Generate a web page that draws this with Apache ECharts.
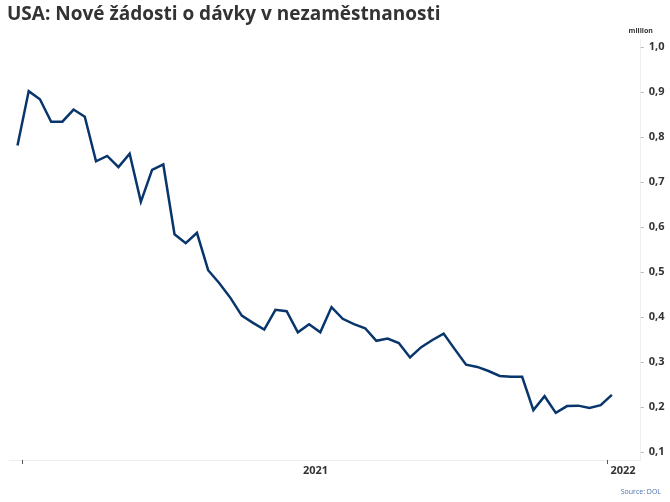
<!DOCTYPE html>
<html>
<head>
<meta charset="utf-8">
<script src="https://cdn.jsdelivr.net/npm/echarts@6/dist/echarts.min.js"></script>
<style>
html,body{margin:0;padding:0;background:#fff;}
#chart{width:670px;height:502px;}
</style>
</head>
<body>
<div id="chart"></div>
<script>
// Weekly initial jobless claims (millions), plotted dates
var dates = [
  "2020-12-29","2021-01-05","2021-01-12","2021-01-19","2021-01-26",
  "2021-02-02","2021-02-09","2021-02-16","2021-02-23",
  "2021-03-02","2021-03-09","2021-03-16","2021-03-23","2021-03-30",
  "2021-04-06","2021-04-13","2021-04-20","2021-04-27",
  "2021-05-04","2021-05-11","2021-05-18","2021-05-25",
  "2021-06-01","2021-06-08","2021-06-15","2021-06-22","2021-06-29",
  "2021-07-06","2021-07-13","2021-07-20","2021-07-27",
  "2021-08-03","2021-08-10","2021-08-17","2021-08-24","2021-08-31",
  "2021-09-07","2021-09-14","2021-09-21","2021-09-28",
  "2021-10-05","2021-10-12","2021-10-19","2021-10-26",
  "2021-11-02","2021-11-09","2021-11-16","2021-11-23","2021-11-30",
  "2021-12-07","2021-12-14","2021-12-21","2021-12-28",
  "2022-01-04"
];
var claims = [
  0.781,0.902,0.884,0.834,0.834,
  0.861,0.845,0.746,0.758,
  0.733,0.763,0.656,0.727,0.739,
  0.584,0.564,0.587,0.504,
  0.475,0.442,0.403,0.387,
  0.372,0.416,0.413,0.366,0.384,
  0.366,0.422,0.396,0.384,
  0.375,0.347,0.352,0.342,0.310,
  0.333,0.349,0.363,0.328,
  0.294,0.289,0.280,0.269,
  0.267,0.267,0.193,0.224,0.187,
  0.202,0.203,0.198,0.204,
  0.227
];
var yTicks = [0.1,0.2,0.3,0.4,0.5,0.6,0.7,0.8,0.9,1.0];
var yearTicks = ["2021-01-01","2022-01-01"];
var yearLabelAt = ["2021-07-03","2022-01-11"];
var titleText = "USA: Nové žádosti o dávky v nezaměstnanosti";
var sourceText = "Source: DOL";
var unitText = "million";

function ts(s){ return Date.parse(s + "T00:00:00Z"); }
var seriesData = dates.map(function(d,i){ return [ts(d), claims[i]]; });

var chart = echarts.init(document.getElementById('chart'), null, {renderer:'canvas'});
chart.setOption({
  animation: false,
  backgroundColor: '#ffffff',
  title: [
    {text: titleText, left: 7, top: 5, padding: 0,
     textStyle: {fontFamily: 'Open Sans', fontSize: 19, fontWeight: 'bold', color: '#333333'}},
    {text: sourceText, right: 9, bottom: 7, padding: 0,
     textStyle: {fontFamily: 'Open Sans', fontSize: 7, fontWeight: 'normal', color: '#4a6fb0'}}
  ],
  grid: {left: 9.5, right: 29.3, top: 40, bottom: 42, containLabel: false},
  xAxis: {
    type: 'value',
    min: ts("2020-12-24"),
    max: ts("2022-01-22"),
    axisLine: {show: true, onZero: false, lineStyle: {color: '#eeeeee', width: 1}},
    axisTick: {show: true, length: 4, lineStyle: {color: '#555555'}, customValues: yearTicks.map(ts)},
    axisLabel: {
      customValues: yearLabelAt.map(ts),
      formatter: function(v){ return String(new Date(v).getUTCFullYear()); },
      fontFamily: 'Open Sans', fontSize: 11, fontWeight: 'bold', color: '#333333', margin: 5
    },
    splitLine: {show: false}
  },
  yAxis: {
    type: 'value',
    position: 'right',
    min: 0.0822,
    max: 1.0156,
    name: unitText,
    nameLocation: 'end',
    nameGap: 6,
    nameTextStyle: {fontFamily: 'Open Sans', fontSize: 7, fontWeight: 'bold', color: '#333333', align: 'center'},
    axisLine: {show: true, lineStyle: {color: '#eeeeee', width: 1}},
    axisTick: {show: true, length: 3, lineStyle: {color: '#bbbbbb'}, customValues: yTicks},
    axisLabel: {
      customValues: yTicks,
      formatter: function(v){ return v.toFixed(1).replace('.', ','); },
      fontFamily: 'Open Sans', fontSize: 11, fontWeight: 'bold', color: '#333333', margin: 8
    },
    splitLine: {show: false}
  },
  series: [{
    type: 'line',
    data: seriesData,
    symbol: 'none',
    lineStyle: {color: '#08356b', width: 2.5, join: 'miter'},
    itemStyle: {color: '#08356b'}
  }]
});
</script>
</body>
</html>
